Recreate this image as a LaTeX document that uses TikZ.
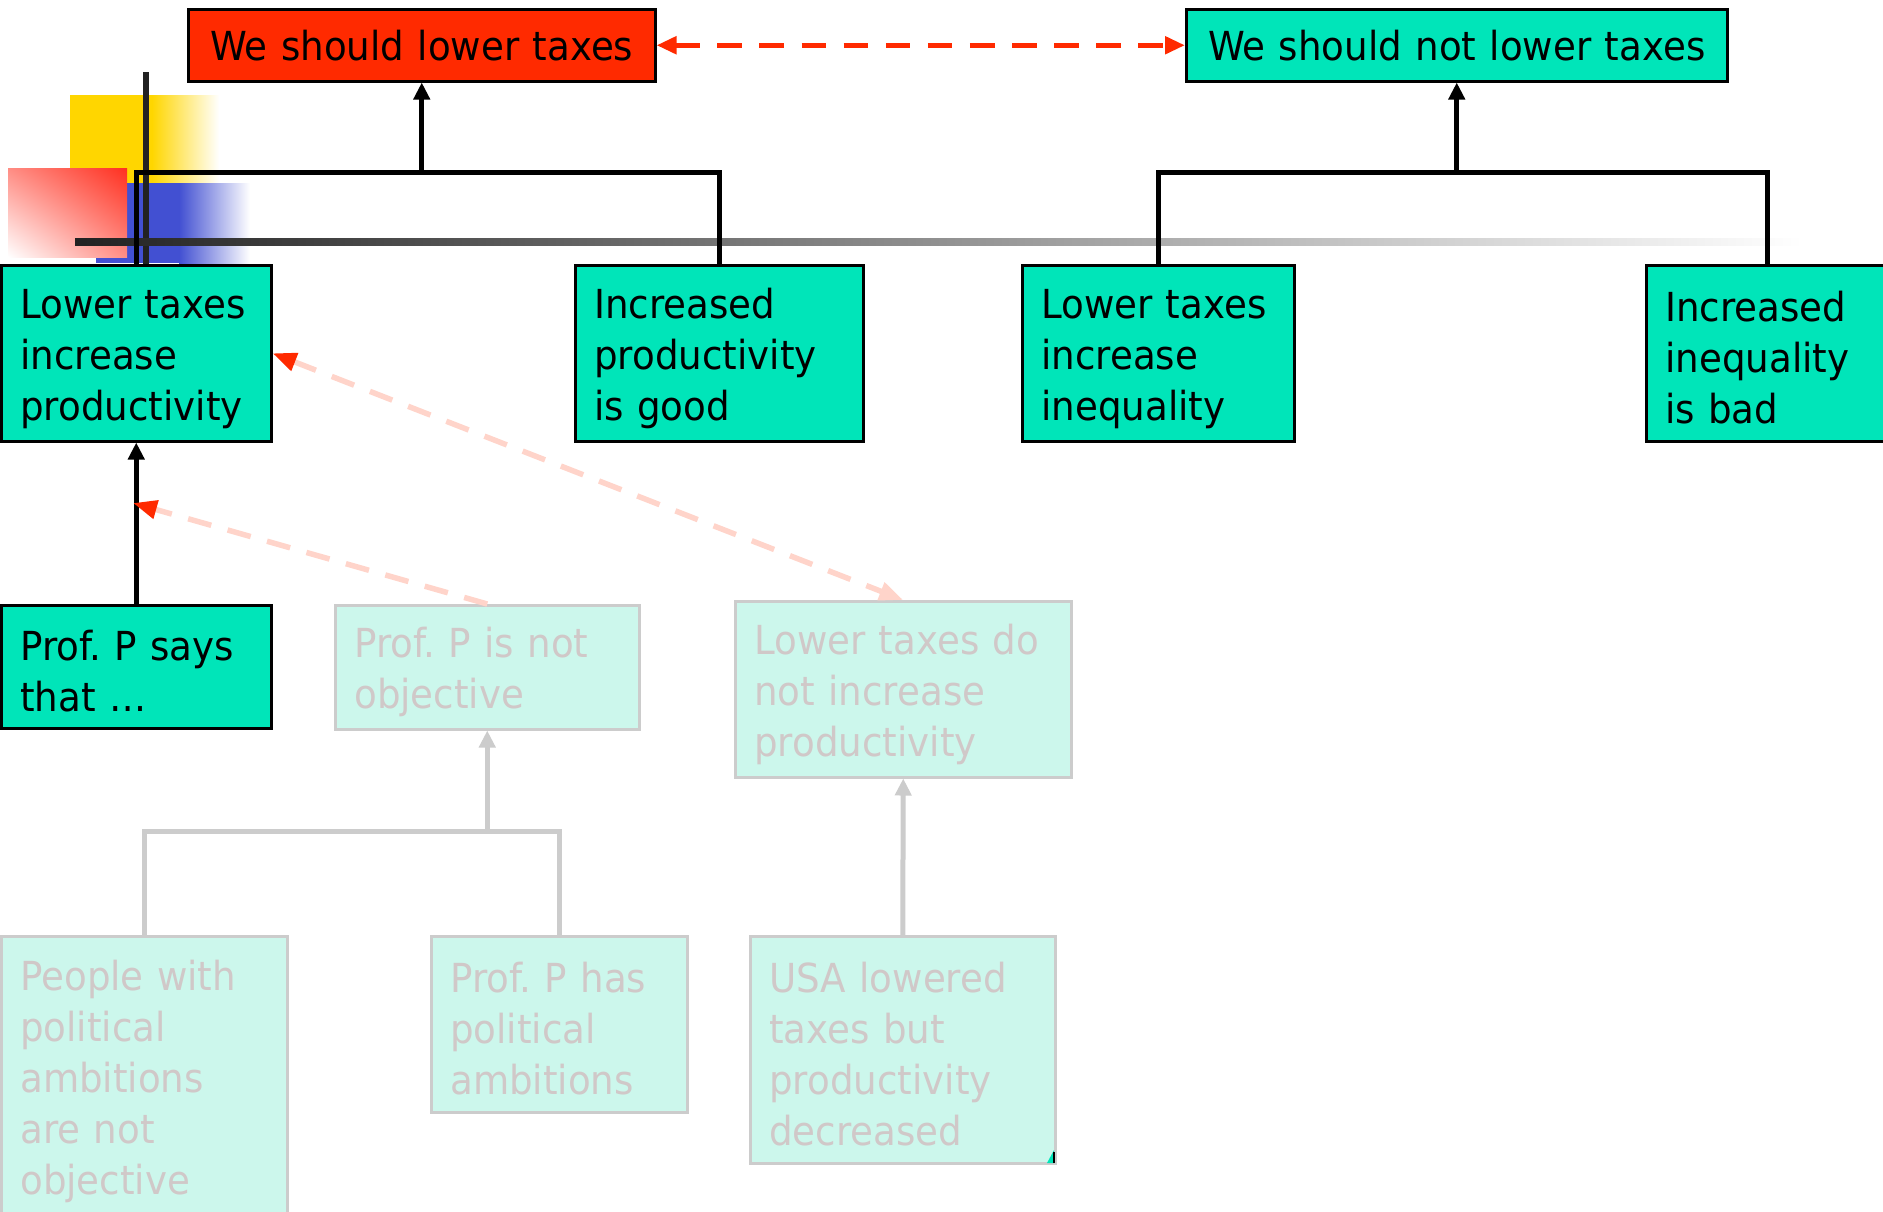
\documentclass[tikz,border=0pt]{standalone}
\usepackage{fontspec}
\setmainfont{DejaVu Sans}[FakeStretch=0.93]
\usetikzlibrary{arrows.meta,shadings}
\frenchspacing

\definecolor{boxgreen}{RGB}{0,229,185}
\definecolor{boxred}{RGB}{255,42,0}
\definecolor{fadefill}{RGB}{204,247,236}
\definecolor{fadeline}{RGB}{204,204,204}
\definecolor{fadetext}{RGB}{208,200,200}
\definecolor{pinkline}{RGB}{255,212,202}
\definecolor{dashred}{RGB}{255,42,0}
\definecolor{logoyellow}{RGB}{255,214,0}
\definecolor{logoblue}{RGB}{66,80,210}
\definecolor{logored}{RGB}{255,48,32}
\definecolor{logodark}{RGB}{34,34,34}

\begin{document}
\begin{tikzpicture}[x=1pt,y=-1pt,
  claimbox/.style={rectangle, anchor=north west, draw=black, line width=2.5pt,
    fill=boxgreen, text=black, inner xsep=19pt, inner ysep=0pt,
    font=\fontsize{40}{51}\selectfont, align=left},
  multiline/.style={execute at begin node={\rule{0pt}{40pt}}},
  fadebox/.style={claimbox, multiline, draw=fadeline, fill=fadefill, text=fadetext},
  sz/.style n args={3}{minimum width=#1pt, minimum height=#2pt, text width=#3pt},
  conn/.style={line width=5pt, draw=black},
  fadeconn/.style={line width=5pt, draw=fadeline},
  uptip/.style={-{Triangle[length=17pt,width=16pt]}},
  attack/.style={line width=5.5pt, draw=pinkline, dash pattern=on 24pt off 17pt},
]
\useasboundingbox (0,0) rectangle (1883,1211);
\fill[white] (0,0) rectangle (1883,1211);
\clip (0,0) rectangle (1883,1211);

% template logo squares
\fill[logoyellow] (70,95) rectangle (152,183);
\shade[left color=logoyellow, right color=white] (152,95) rectangle (219,183);
\fill[logoblue] (96,183) rectangle (179,263);
\shade[left color=logoblue, right color=white] (179,183) rectangle (250,263);
\shade[upper right=logored, lower left=white,
       upper left=logored!55!white, lower right=logored!55!white]
  (8,168) rectangle (127,257);
\draw[line width=6pt, logodark] (145.5,72) -- (145.5,264);
\shade[left color=logodark, right color=white] (75,238) rectangle (1802,245);

% top-level claims
\node[claimbox, sz={467}{72}{429}, fill=boxred, align=center] (pro) at (187,8) {We should lower taxes};
\node[claimbox, sz={541}{72}{503}, align=center] (con) at (1185,8) {We should not lower taxes};

% premises
\node[claimbox, multiline, sz={270}{176}{232}] (ltip) at (0,264) {Lower taxes\\increase\\productivity};
\node[claimbox, multiline, sz={288}{176}{250}] (ipg) at (574,264) {Increased\\productivity\\is good};
\node[claimbox, multiline, sz={272}{176}{234}] (lti) at (1021,264) {Lower taxes\\increase\\inequality};
\node[claimbox, multiline, sz={242}{176}{204}] (iib) at (1645,264) {Increased\\inequality\\is bad};
\node[claimbox, multiline, sz={270}{123}{232}] (says) at (0,604) {Prof. P says\\that …};

% faded counter-arguments
\node[fadebox, sz={304}{124}{266}] (pnobj) at (334,604) {Prof. P is not\\objective};
\node[fadebox, sz={336}{176}{298}] (ltnot) at (734,600) {Lower taxes do\\not increase\\productivity};
\node[fadebox, sz={286}{280}{248}] (people) at (0,935) {People with\\political\\ambitions\\are not\\objective};
\node[fadebox, sz={256}{176}{218}] (ppol) at (430,935) {Prof. P has\\political\\ambitions};
\node[fadebox, sz={305}{227}{267}] (usa) at (749,935) {USA lowered\\taxes but\\productivity\\decreased};
\fill[boxgreen] (1054,1150) -- (1054,1163) -- (1047,1163) -- cycle;
\draw[black, line width=1.5pt] (1054,1152) -- (1054,1163);

% support brackets
\coordinate (jpro) at (pro.south |- 0,172);
\coordinate (jcon) at (con.south |- 0,172);
\draw[conn] (ltip.north) |- (jpro) -| (ipg.north);
\draw[conn, uptip] (jpro) -- (pro.south);
\draw[conn] (lti.north) |- (jcon) -| (iib.north);
\draw[conn, uptip] (jcon) -- (con.south);
\draw[conn, uptip] (says.north) -- (ltip.south);

\coordinate (jobj) at (pnobj.south |- 0,831);
\draw[fadeconn] (people.north) |- (jobj) -| (ppol.north);
\draw[fadeconn, uptip] (jobj) -- (pnobj.south);
\draw[fadeconn, uptip] (usa.north) -- (ltnot.south);

% conflicts
\draw[line width=5.5pt, dashred, dash pattern=on 24.6pt off 17.5pt,
      {Triangle[length=20pt,width=17pt]}-{Triangle[length=20pt,width=17pt]}]
  (pro.east) -- (con.west);
\coordinate (hit) at (133,503);
\draw[attack, -{Triangle[length=24pt,width=18pt,color=dashred]}] (pnobj.north) -- (hit);
\draw[attack, {Triangle[length=24pt,width=18pt,color=dashred]}-{Triangle[length=24pt,width=18pt]}]
  (ltip.east) -- (ltnot.north);
\end{tikzpicture}
\end{document}
